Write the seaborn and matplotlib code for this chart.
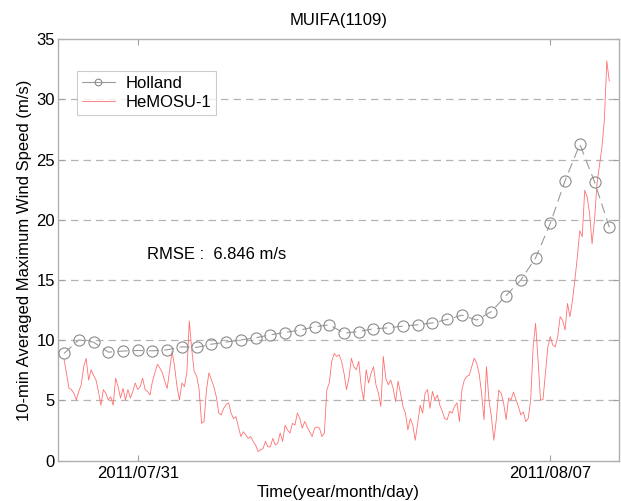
import pandas as pd
import numpy as np
import matplotlib
matplotlib.use("Agg")
import matplotlib.pyplot as plt
import matplotlib.dates as mdates
import seaborn as sns

# Holland model, 6-hourly (m/s)
holland_start = "2011-07-29 18:00"
holland_speed = [8.9, 10.03, 9.84, 9.01, 9.1, 9.15, 9.12, 9.2, 9.45, 9.4,
                 9.67, 9.84, 10.03, 10.2, 10.45, 10.64, 10.84, 11.11, 11.28, 10.59,
                 10.72, 10.95, 11.03, 11.17, 11.28, 11.44, 11.72, 12.08, 11.67, 12.38,
                 13.71, 15.0, 16.83, 19.71, 23.24, 26.26, 23.16, 19.38]

# HeMOSU-1 observation, hourly (m/s)
hemosu_start = "2011-07-29 18:00"
hemosu_speed = [8.4, 7.25, 6.0, 5.9, 5.6, 5.05, 5.75, 6.3, 7.8, 8.5,
                6.7, 7.55, 7.1, 6.7, 5.75, 4.6, 5.9, 5.6, 5.05, 5.3,
                4.6, 6.85, 6.15, 5.2, 6.0, 5.05, 5.9, 5.2, 5.75, 6.45,
                5.9, 6.15, 6.85, 5.9, 5.75, 5.45, 6.6, 7.3, 8.0, 7.7,
                7.3, 6.6, 6.0, 7.55, 9.1, 7.8, 6.15, 5.05, 6.45, 6.15,
                7.3, 11.6, 9.2, 7.4,
                7.0, 5.9, 3.1, 3.25, 5.9, 7.3, 6.7, 6.15, 5.3, 3.95,
                3.8, 4.35, 4.65, 4.8, 3.95, 3.5, 3.65, 2.8, 2.0, 2.4,
                2.15, 1.85, 2.0, 1.6, 1.3, 0.75, 0.9, 1.0, 1.6, 1.15,
                1.15, 1.85, 1.3, 1.45, 2.3, 1.6, 2.95, 2.55, 2.3, 3.1,
                2.95, 3.95, 3.5, 2.7, 3.25, 2.8, 2.4, 2.0, 2.7, 2.8,
                2.7, 2.0, 2.3, 5.9, 6.45, 8.25, 8.9,
                8.65, 8.8, 8.25, 7.25, 5.9, 6.85, 8.5, 7.8, 7.55, 8.25,
                6.15, 5.05, 7.55, 6.45, 7.25, 7.8, 6.3, 5.6, 4.5, 8.65,
                6.85, 6.3, 6.7, 6.0, 4.9, 6.6, 5.6, 4.5, 3.95, 2.55,
                3.5, 2.95, 1.7, 3.1, 4.6, 3.95, 5.6, 5.9, 4.35, 5.75,
                5.05, 5.45, 4.6, 4.1, 3.5, 3.4, 4.1, 3.95, 4.5, 4.8,
                3.25, 5.9, 6.7, 7.0, 7.1, 7.8, 8.5,
                8.1, 7.25, 5.6, 3.4, 7.8, 5.05, 3.65, 1.7, 3.4, 5.85,
                5.6, 4.75, 3.4, 5.2, 5.05, 5.7, 5.05, 4.5, 3.8, 4.05,
                3.25, 3.5, 5.05, 9.45, 11.4, 8.35, 5.05, 5.05, 7.25, 9.45,
                10.3, 9.6, 9.45, 10.3, 11.95, 11.65, 10.85, 13.05, 11.95, 13.3,
                15.0, 16.9, 19.1, 18.6, 22.45, 21.9, 20.5, 18.0, 20.0, 23.0,
                24.5, 26.0, 28.3, 33.2, 31.5]

x_ticks = ["2011-07-31", "2011-08-07"]
y_ticks = [0, 5, 10, 15, 20, 25, 30, 35]
rmse = 6.846

holland = pd.DataFrame({"time": pd.date_range(holland_start, periods=len(holland_speed), freq="6h"),
                        "speed": holland_speed})
hemosu = pd.DataFrame({"time": pd.date_range(hemosu_start, periods=len(hemosu_speed), freq="1h"),
                       "speed": hemosu_speed})

sns.set_style("white")
plt.rcParams["font.family"] = ["Liberation Sans", "DejaVu Sans"]
plt.rcParams["text.color"] = "black"
plt.rcParams["axes.labelcolor"] = "black"
plt.rcParams["xtick.labelcolor"] = "black"
plt.rcParams["ytick.labelcolor"] = "black"

fig = plt.figure(figsize=(6.21, 5.01), dpi=100)
ax = fig.add_axes([0.093, 0.0805, 0.903, 0.8415])

# horizontal dashed grid
for yv in y_ticks[1:-1]:
    ax.axhline(yv, color="#b4b4b4", lw=0.9, ls=(0, (6, 4)), zorder=0)

sns.lineplot(data=holland, x="time", y="speed", ax=ax, color="#9a9a9a",
             lw=0.8, ls=(0, (9, 5)), marker="o", markersize=8,
             markerfacecolor="none", markeredgecolor="#8a8a8a",
             markeredgewidth=0.8, label="Holland", zorder=3)
sns.lineplot(data=hemosu, x="time", y="speed", ax=ax, color="#ff7070",
             lw=0.6, label="HeMOSU-1", zorder=2)

ax.set_xlim(pd.Timestamp("2011-07-29 15:26"), pd.Timestamp("2011-08-08 03:46"))
ax.set_ylim(0, 35)
ax.set_xticks(pd.to_datetime(x_ticks))
ax.xaxis.set_major_formatter(mdates.DateFormatter("%Y/%m/%d"))
ax.set_yticks(y_ticks)

ax.tick_params(direction="in", length=4, color="#a0a0a0", labelsize=12,
               top=True, right=True, bottom=True, left=True, pad=2)
ax.tick_params(axis="x", pad=4)
for s in ax.spines.values():
    s.set_color("#b0b0b0")
    s.set_linewidth(1.0)

ax.set_title("MUIFA(1109)", fontsize=12, pad=10)
ax.set_xlabel("Time(year/month/day)", fontsize=12, labelpad=3)
ax.set_ylabel("10-min Averaged Maximum Wind Speed (m/s)", fontsize=12, labelpad=3)

ax.text(0.159, 0.488, f"RMSE :  {rmse:.3f} m/s", transform=ax.transAxes,
        fontsize=12, va="center", ha="left")

leg = ax.legend(loc="upper left", bbox_to_anchor=(0.034, 0.925), borderaxespad=0,
                fontsize=12, frameon=True, fancybox=False, handlelength=2.0,
                markerscale=0.6, borderpad=0.3, labelspacing=0.25, handletextpad=0.6)
leg.get_frame().set_edgecolor("#c0c0c0")
leg.get_frame().set_linewidth(0.8)
leg.get_lines()[0].set_linestyle("-")

fig.savefig("out.png", dpi=100)
